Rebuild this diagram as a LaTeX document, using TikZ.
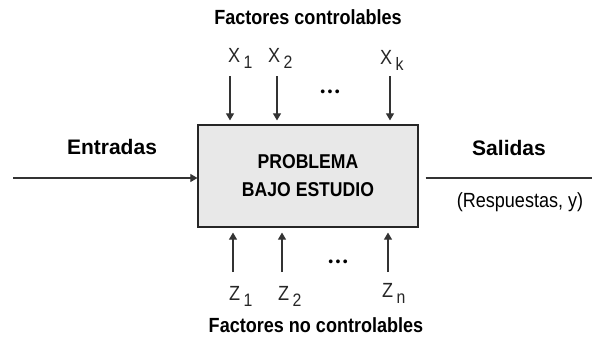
\documentclass[tikz,border=0pt]{standalone}
\usepackage{fontspec}
\setmainfont{Liberation Sans}
\newfontfamily\tallsans[FakeStretch=0.88]{Liberation Sans}
\usetikzlibrary{arrows.meta}
\newcommand{\sub}[1]{\,\raisebox{-0.32em}{\fontsize{18}{18}\selectfont #1}}
\begin{document}
\begin{tikzpicture}[x=1pt,y=-1pt,
  lbl/.style={inner sep=0pt,font=\tallsans\fontsize{20.5}{22}\selectfont\bfseries},
  side/.style={inner sep=0pt,font=\fontsize{21}{23}\selectfont\bfseries},
  var/.style={inner sep=0pt,anchor=base west,text=black!85,font=\tallsans\fontsize{20.5}{22}\selectfont},
  small/.style={inner sep=0pt,font=\tallsans\fontsize{20.5}{22}\selectfont},
  flow/.style={line width=1.1pt,draw=black!80,-{Triangle[length=7pt,width=8pt]}},
  dots/.style={inner sep=0pt,font=\fontsize{14}{16}\selectfont}]
\useasboundingbox (0,0) rectangle (600,346);
% central process box
\node[draw=black!85,line width=1.2pt,fill=black!9,minimum width=220pt,minimum height=102pt,inner sep=0pt,
  align=center,font=\tallsans\fontsize{20}{28}\selectfont\bfseries] (box) at (308,176) {PROBLEMA\\BAJO ESTUDIO};
% headings
\node[lbl] (top) at (308,17) {Factores controlables};
\node[lbl] (bot) at (316,325) {Factores no controlables};
\node[side] (ent) at (112,147) {Entradas};
\node[side] (sal) at (509,148) {Salidas};
\node[small] (resp) at (520,202) {(Respuestas, y)};
% controllable factors
\node[var] (x1) at (228,62) {X\sub{1}};
\node[var] (x2) at (268,62) {X\sub{2}};
\node[var] (xk) at (380,64) {X\sub{k}};
\node[dots] (xd) at (330,93) {\textbullet\,\textbullet\,\textbullet};
\coordinate (x1a) at (230,76);
\coordinate (x2a) at (277,76);
\coordinate (xka) at (390,76);
\draw[flow] (x1a) -- ([yshift=4pt]x1a |- box.north);
\draw[flow] (x2a) -- ([yshift=4pt]x2a |- box.north);
\draw[flow] (xka) -- ([yshift=4pt]xka |- box.north);
% uncontrollable factors
\node[var] (z1) at (229,300) {Z\sub{1}};
\node[var] (z2) at (278,300) {Z\sub{2}};
\node[var] (zn) at (382,297) {Z\sub{n}};
\node[dots] (zd) at (338,263) {\textbullet\,\textbullet\,\textbullet};
\coordinate (z1a) at (233,272);
\coordinate (z2a) at (282,272);
\coordinate (zna) at (388,272);
\draw[flow] (z1a) -- ([yshift=-5pt]z1a |- box.south);
\draw[flow] (z2a) -- ([yshift=-5pt]z2a |- box.south);
\draw[flow] (zna) -- ([yshift=-5pt]zna |- box.south);
% input and output lines
\coordinate (in) at (13,178);
\coordinate (out) at (592,178);
\draw[flow] (in) -- (in -| box.west);
\draw[line width=1.1pt,draw=black!80] ([xshift=7pt]out -| box.east) -- (out);
\end{tikzpicture}
\end{document}
